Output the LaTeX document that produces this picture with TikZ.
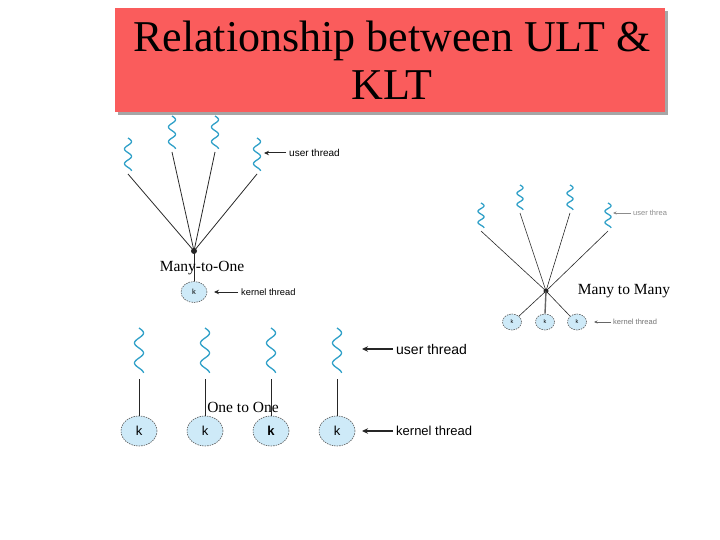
\documentclass[tikz,border=0pt]{standalone}
\usepackage{fontspec}
\setmainfont{Liberation Serif}
\newfontfamily\labelfont{Liberation Sans}
\usetikzlibrary{shapes.geometric,arrows.meta}
\definecolor{titlered}{RGB}{250,92,92}
\definecolor{threadblue}{RGB}{48,160,200}
\definecolor{kblue}{RGB}{206,234,248}
\definecolor{kborder}{RGB}{90,90,90}
\tikzset{
  thread/.style={draw=threadblue, line width=1.3pt},
  link/.style={draw=black!85, line width=0.8pt},
  kcirc/.style={ellipse, draw=kborder, dashed, dash pattern=on 1.5pt off 1pt, fill=kblue, inner sep=0pt, line width=0.6pt},
  junction/.style={circle, fill=black!85, inner sep=0pt, minimum size=6pt},
  caption/.style={font=\fontsize{15.5}{17}\selectfont, inner sep=0pt},
  lbl/.style={font=\labelfont, inner sep=0pt, anchor=west},
  larrow/.style={draw=black!85, line width=1pt, shorten <=3pt, -{Stealth[length=5pt,width=4.5pt]}},
}
% name, x, ytop, length, amplitude
\newcommand\uthread[5]{%
  \draw[thread] plot[domain=0:1,samples=60,smooth] ({#2+#5*sin(810*\x)},{#3+#4*\x});
  \coordinate (#1) at (#2,#3+#4);}
\begin{document}
\begin{tikzpicture}[x=1pt,y=-1pt]
\useasboundingbox (0,0) rectangle (720,540);
% title
\fill[black!35] (118,11) rectangle (668,115);
\fill[titlered] (115,8) rectangle (665,112);
\node[font=\fontsize{44}{48}\selectfont, align=center, inner sep=0pt] (title) at (392,60)
  {Relationship between ULT \&\\KLT};

% ---------- Many-to-One ----------
\uthread{a1}{128}{138}{33}{3.5}
\uthread{a2}{172}{116}{33}{3.5}
\uthread{a3}{215}{116}{33}{3.5}
\uthread{a4}{257}{138}{33}{3.5}
\node[junction] (j1) at (194,251) {};
\node[kcirc, minimum width=26pt, minimum height=21pt, font=\labelfont\fontsize{7.5}{8}\selectfont] (k1) at (194,292) {k};
\draw[link] ([yshift=-3pt]a1) -- (j1.center);
\draw[link] ([yshift=-3pt]a2) -- (j1.center);
\draw[link] ([yshift=-3pt]a3) -- (j1.center);
\draw[link] ([yshift=-3pt]a4) -- (j1.center);
\draw[link] (j1.center) -- (k1.north);
\node[caption] (c1) at (202,268) {Many-to-One};
\node[lbl, font=\labelfont\fontsize{10}{12}\selectfont] (u1) at (289,153) {user thread};
\coordinate (u1t) at (264,153);
\draw[larrow] (u1.west) -- (u1t);
\node[lbl, font=\labelfont\fontsize{9.3}{11}\selectfont] (kt1) at (241,292) {kernel thread};
\coordinate (kt1t) at (214,292);
\draw[larrow] (kt1.west) -- (kt1t);

% ---------- Many to Many ----------
\uthread{b1}{481}{203}{25}{3}
\uthread{b2}{520}{185}{25}{3}
\uthread{b3}{570}{185}{25}{3}
\uthread{b4}{608}{203}{25}{3}
\node[junction, minimum size=5pt] (j2) at (546,291) {};
\node[kcirc, minimum width=19pt, minimum height=16pt, font=\labelfont\fontsize{5.5}{6}\selectfont] (m1) at (512,322) {k};
\node[kcirc, minimum width=19pt, minimum height=16pt, font=\labelfont\fontsize{5.5}{6}\selectfont] (m2) at (545,322) {k};
\node[kcirc, minimum width=19pt, minimum height=16pt, font=\labelfont\fontsize{5.5}{6}\selectfont] (m3) at (577,322) {k};
\draw[link, line width=0.6pt] ([yshift=-3pt]b1) -- (j2.center);
\draw[link, line width=0.6pt] ([yshift=-3pt]b2) -- (j2.center);
\draw[link, line width=0.6pt] ([yshift=-3pt]b3) -- (j2.center);
\draw[link, line width=0.6pt] ([yshift=-3pt]b4) -- (j2.center);
\draw[link, line width=0.6pt] (j2.center) -- (m1.north east);
\draw[draw=black!60, line width=1.4pt] (j2.center) -- (m2.north);
\draw[link, line width=0.6pt] (j2.center) -- (m3.north west);
\node[caption] (c2) at (624,291) {Many to Many};
\node[lbl, font=\labelfont\fontsize{7.5}{9}\selectfont, text=black!45] (u2) at (633,213) {user threa};
\coordinate (u2t) at (613,213);
\draw[larrow, draw=black!45, line width=0.6pt, shorten <=2pt, -{Stealth[length=3.5pt,width=3pt]}] (u2.west) -- (u2t);
\node[lbl, font=\labelfont\fontsize{7.5}{9}\selectfont, text=black!55] (kt2) at (613,322) {kernel thread};
\coordinate (kt2t) at (594,322);
\draw[larrow, draw=black!60, line width=0.8pt, shorten <=2pt, -{Stealth[length=3.5pt,width=3pt]}] (kt2.west) -- (kt2t);

% ---------- One to One ----------
\uthread{d1}{139}{328}{45}{4.5}
\uthread{d2}{205}{328}{45}{4.5}
\uthread{d3}{271}{328}{45}{4.5}
\uthread{d4}{337}{328}{45}{4.5}
\node[kcirc, minimum width=36pt, minimum height=30pt, font=\labelfont\fontsize{13}{14}\selectfont] (o1) at (139,431) {k};
\node[kcirc, minimum width=36pt, minimum height=30pt, font=\labelfont\fontsize{13}{14}\selectfont] (o2) at (205,431) {k};
\node[kcirc, minimum width=36pt, minimum height=30pt, font=\labelfont\bfseries\fontsize{13}{14}\selectfont] (o3) at (271,431) {k};
\node[kcirc, minimum width=36pt, minimum height=30pt, font=\labelfont\fontsize{13}{14}\selectfont] (o4) at (337,431) {k};
\draw[link] ([yshift=-6pt]d1) -- (o1.north);
\draw[link] ([yshift=-6pt]d2) -- (o2.north);
\draw[link] ([yshift=-6pt]d3) -- (o3.north);
\draw[link] ([yshift=-6pt]d4) -- (o4.north);
\node[caption] (c3) at (243,407) {One to One};
\node[lbl, font=\labelfont\fontsize{14}{16}\selectfont] (u3) at (396,349) {user thread};
\coordinate (u3t) at (362,349);
\draw[larrow, line width=1.3pt, -{Stealth[length=6pt,width=5.5pt]}] (u3.west) -- (u3t);
\node[lbl, font=\labelfont\fontsize{13}{15}\selectfont] (kt3) at (396,431) {kernel thread};
\coordinate (kt3t) at (362,431);
\draw[larrow, line width=1.3pt, -{Stealth[length=6pt,width=5.5pt]}] (kt3.west) -- (kt3t);
\end{tikzpicture}
\end{document}
